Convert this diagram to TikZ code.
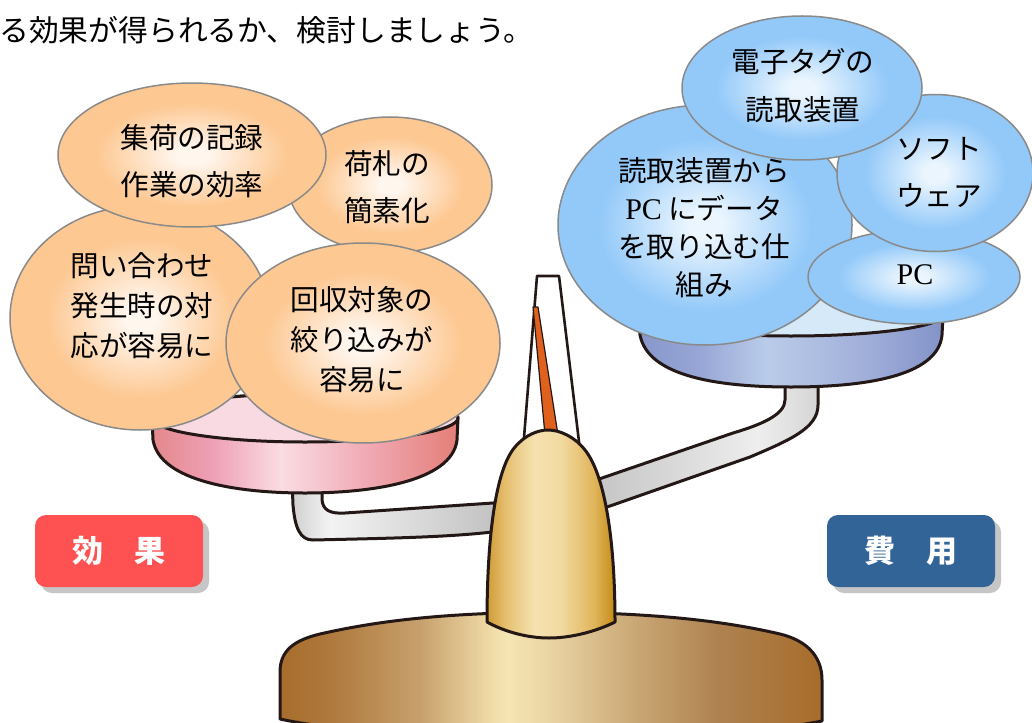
\documentclass[tikz,border=0pt]{standalone}
\usepackage{fontspec}
\newfontfamily\jp{Noto Sans CJK JP}
\newfontfamily\pcserif{Liberation Serif}
\usetikzlibrary{shapes.geometric}

% palette
\definecolor{ink}{HTML}{231815}
\definecolor{edgegray}{HTML}{8A8A8A}
\definecolor{orIn}{HTML}{FFF6EE}
\definecolor{orOut}{HTML}{FDC892}
\definecolor{blIn}{HTML}{EAF5FE}
\definecolor{blOut}{HTML}{93C9F9}
\definecolor{pinkTop}{HTML}{F9DAE3}
\definecolor{blueTop}{HTML}{D5E9F8}
\definecolor{effectRed}{HTML}{FE5252}
\definecolor{costBlue}{HTML}{336498}
\definecolor{shadowGray}{HTML}{C6C6C6}
\definecolor{pointer}{HTML}{E0601E}
\definecolor{pk0}{HTML}{E4888A}
\definecolor{pk1}{HTML}{EEA0B6}
\definecolor{pk2}{HTML}{FADCE3}
\definecolor{pk3}{HTML}{F0AAB4}
\definecolor{pk4}{HTML}{E47E78}
\definecolor{bl0}{HTML}{8797CB}
\definecolor{bl1}{HTML}{97A6D6}
\definecolor{bl2}{HTML}{BACCE9}
\definecolor{bl3}{HTML}{A5B3DC}
\definecolor{bl4}{HTML}{8393C8}
\definecolor{gr0}{HTML}{D0D0D0}
\definecolor{gr1}{HTML}{F3F3F3}
\definecolor{gr2}{HTML}{C4C4C4}
\definecolor{gr3}{HTML}{C8C8C8}
\definecolor{gr4}{HTML}{EEEEEE}
\definecolor{gr5}{HTML}{D5D5D5}
\definecolor{gd0}{HTML}{CF9B36}
\definecolor{gd1}{HTML}{E5BE6E}
\definecolor{gd2}{HTML}{F5E2B0}
\definecolor{gd3}{HTML}{F2DAA2}
\definecolor{gd4}{HTML}{E0B45A}
\definecolor{gd5}{HTML}{C48A14}
\definecolor{br0}{HTML}{A86D2C}
\definecolor{br1}{HTML}{AE783C}
\definecolor{br2}{HTML}{C7A16D}
\definecolor{br3}{HTML}{F0DCA8}
\definecolor{br4}{HTML}{F5E6B4}
\definecolor{br5}{HTML}{E6CE9E}
\definecolor{br6}{HTML}{C8A673}
\definecolor{br7}{HTML}{AE8250}
\definecolor{br8}{HTML}{A86C2A}

% shadings: the path's box spans 25bp..75bp
\pgfdeclarehorizontalshading{pinkband}{100bp}{color(0bp)=(pk0); color(25bp)=(pk0); color(35bp)=(pk1); color(46bp)=(pk2); color(60bp)=(pk3); color(75bp)=(pk4); color(100bp)=(pk4)}
\pgfdeclarehorizontalshading{blueband}{100bp}{color(0bp)=(bl0); color(25bp)=(bl0); color(35bp)=(bl1); color(46bp)=(bl2); color(60bp)=(bl3); color(75bp)=(bl4); color(100bp)=(bl4)}
\pgfdeclarehorizontalshading{beamgray}{100bp}{color(0bp)=(gr0); color(25bp)=(gr0); color(28.6bp)=(gr1); color(43.8bp)=(gr2); color(55bp)=(gr3); color(69.3bp)=(gr4); color(75bp)=(gr5); color(100bp)=(gr5)}
\pgfdeclarehorizontalshading{domegold}{100bp}{color(0bp)=(gd0); color(25bp)=(gd0); color(32bp)=(gd1); color(43.5bp)=(gd2); color(53.5bp)=(gd3); color(67bp)=(gd4); color(75bp)=(gd5); color(100bp)=(gd5)}
\pgfdeclarehorizontalshading{basebrown}{100bp}{color(0bp)=(br0); color(25bp)=(br0); color(29.5bp)=(br1); color(38bp)=(br2); color(44.5bp)=(br3); color(46bp)=(br4); color(51bp)=(br5); color(58bp)=(br6); color(65.5bp)=(br7); color(75bp)=(br8); color(100bp)=(br8)}
\pgfdeclareradialshading{bubbleorange}{\pgfpoint{0bp}{0bp}}{color(0bp)=(orIn); color(3bp)=(orIn); color(18bp)=(orOut); color(25bp)=(orOut); color(50bp)=(orOut)}
\pgfdeclareradialshading{bubbleblue}{\pgfpoint{0bp}{0bp}}{color(0bp)=(blIn); color(3bp)=(blIn); color(18bp)=(blOut); color(25bp)=(blOut); color(50bp)=(blOut)}

\tikzset{
  bubbleL/.style={ellipse, draw=edgegray, line width=1.5pt, shading=bubbleorange, inner sep=0pt},
  bubbleR/.style={ellipse, draw=edgegray, line width=1.5pt, shading=bubbleblue, inner sep=0pt},
  btext/.style={align=center, inner sep=0pt, text=black, font=\jp\fontsize{28.6}{#1}\selectfont},
  btext/.default=47,
  outline/.style={draw=ink, line width=3pt, line join=round},
  tag/.style={rounded corners=11pt, minimum width=168pt, minimum height=72pt, inner sep=0pt,
              text=white, font=\jp\bfseries\fontsize{31}{31}\selectfont},
}

\begin{document}
\begin{tikzpicture}[x=1pt,y=-1pt]
\path[use as bounding box] (0,0) rectangle (1032,722);
\clip (0,0) rectangle (1032,722);

% heading line
\node[anchor=west, inner sep=0pt, font=\jp\fontsize{29.8}{31}\selectfont] (head) at (-1,30)
  {る効果が得られるか、検討しましょう。};

% stand base
\path[outline, shading=basebrown]
  (280,719) -- (280,672) .. controls (280,650) and (295,640) .. (320,634)
  .. controls (390,618) and (460,613) .. (549,612)
  .. controls (650,613) and (720,620) .. (780,634)
  .. controls (805,640) and (822,655) .. (822,680) -- (822,721)
  .. controls (700,745) and (400,745) .. (280,719) -- cycle;

% beam with its two stems
\path[outline, shading=beamgray]
  (292,480) -- (293,505) .. controls (295,528) and (300,540) .. (313,540)
  .. controls (400,538) and (470,537) .. (520,528)
  .. controls (560,520) and (590,512) .. (610,506)
  -- (750,457) .. controls (790,440) and (818,428) .. (818,405) -- (818,370)
  -- (785,370) -- (785,400) .. controls (785,415) and (760,425) .. (733,433)
  -- (602,478) .. controls (560,492) and (530,500) .. (493,503)
  -- (345,513) .. controls (330,514) and (323,510) .. (322,500) -- (322,480) -- cycle;

% left pan (pink)
\path[outline, shading=pinkband]
  (152,418) -- (153,440) .. controls (160,482) and (240,493) .. (305,493)
  .. controls (370,493) and (452,482) .. (457,440) -- (458,418)
  arc[start angle=0, end angle=180, x radius=153, y radius=-24] -- cycle;
\path[outline, fill=pinkTop] (305,418) ellipse[x radius=153, y radius=24];

% right pan (blue)
\path[outline, shading=blueband]
  (639,315) -- (640,335) .. controls (648,377) and (720,387) .. (791,387)
  .. controls (862,387) and (938,377) .. (942,335) -- (943,315)
  arc[start angle=0, end angle=180, x radius=152, y radius=-21] -- cycle;
\path[outline, fill=blueTop] (791,315) ellipse[x radius=152, y radius=21];

% needle and pointer
\path[draw=ink, line width=2.6pt, line join=round, fill=white]
  (537,276) -- (559,276) -- (580,450) -- (523,450) -- cycle;
\path[draw=ink, line width=1.2pt, line join=round, fill=pointer]
  (533,307) -- (538,307) -- (558,435) -- (545,435) -- cycle;

% pillar
\path[outline, shading=domegold]
  (487,622) .. controls (487,540) and (495,470) .. (515,447)
  .. controls (525,435) and (538,430) .. (548,430)
  .. controls (560,430) and (575,437) .. (585,450)
  .. controls (605,475) and (615,540) .. (615,622)
  .. controls (595,632) and (570,638) .. (549,638)
  .. controls (528,638) and (505,632) .. (487,622) -- cycle;

% effect bubbles
\node[bubbleL, minimum width=204pt, minimum height=136pt] (b2) at (390,185) {};
\node[btext] (b2t) at (387,187) {荷札の\\簡素化};
\node[bubbleL, minimum width=260pt, minimum height=224pt] (b3) at (140,318) {};
\node[btext=40] (b3t) at (142,306) {問い合わせ\\発生時の対\\応が容易に};
\node[bubbleL, minimum width=268pt, minimum height=144pt] (b1) at (192,155) {};
\node[btext] (b1t) at (192,161) {集荷の記録\\作業の効率};
\node[bubbleL, minimum width=274pt, minimum height=200pt] (b4) at (363,343) {};
\node[btext=40] (b4t) at (362,340) {回収対象の\\絞り込みが\\容易に};

% cost bubbles
\node[bubbleR, minimum width=294pt, minimum height=240pt] (c2) at (705,225) {};
\node[btext=38] (c2t) at (704,228) {読取装置から\\{\pcserif\fontsize{30}{38}\selectfont PC} にデータ\\を取り込む仕\\組み};
\node[bubbleR, minimum width=212pt, minimum height=94pt] (c4) at (914,277) {};
\node[btext] (c4t) at (915,275) {\pcserif\fontsize{30}{38}\selectfont PC};
\node[bubbleR, minimum width=196pt, minimum height=157pt] (c3) at (935,173) {};
\node[btext] (c3t) at (939,172) {ソフト\\ウェア};
\node[bubbleR, minimum width=240pt, minimum height=144pt] (c1) at (802,88) {};
\node[btext=48] (c1t) at (803,86) {電子タグの\\読取装置};

% labels with drop shadows
\node[tag, fill=shadowGray] (effShadow) at (125,557) {};
\node[tag, fill=effectRed] (effect) at (119,551) {効　果};
\node[tag, fill=shadowGray] (costShadow) at (917,557) {};
\node[tag, fill=costBlue] (cost) at (911,551) {費　用};
\end{tikzpicture}
\end{document}
